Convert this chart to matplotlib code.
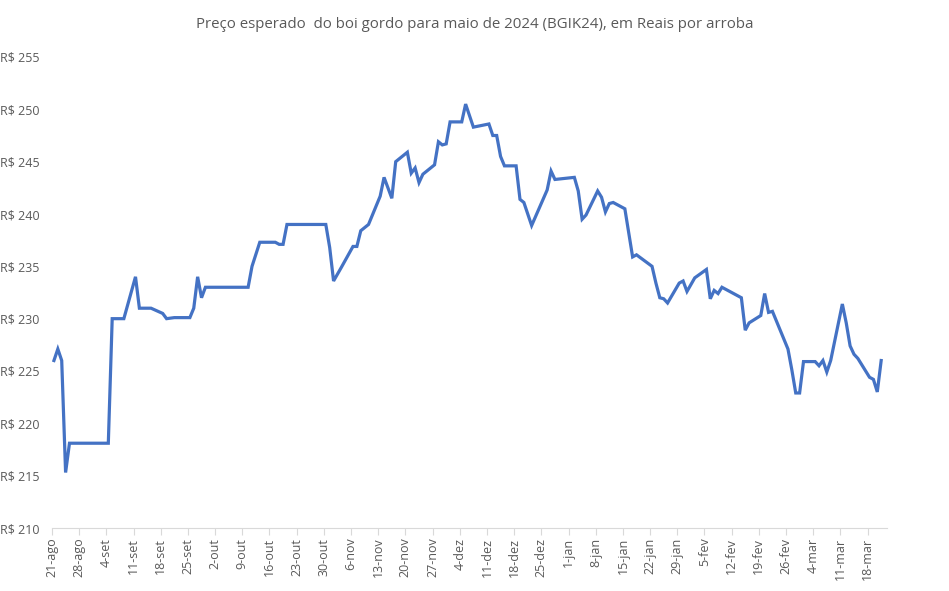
import numpy as np
import pandas as pd
import matplotlib
matplotlib.use("Agg")
from matplotlib import pyplot as plt
from matplotlib.ticker import FuncFormatter

# Datas (pregoes) e precos
datas = [
    "2023-08-21", "2023-08-22", "2023-08-23", "2023-08-24", "2023-08-25",
    "2023-09-04", "2023-09-05", "2023-09-08", "2023-09-11", "2023-09-12",
    "2023-09-15", "2023-09-18", "2023-09-19", "2023-09-21", "2023-09-25",
    "2023-09-26", "2023-09-27", "2023-09-28", "2023-09-29", "2023-10-10",
    "2023-10-11", "2023-10-13", "2023-10-17", "2023-10-18", "2023-10-19",
    "2023-10-20", "2023-10-30", "2023-10-31", "2023-11-01", "2023-11-03",
    "2023-11-06", "2023-11-07", "2023-11-08", "2023-11-10", "2023-11-13",
    "2023-11-14", "2023-11-16", "2023-11-17", "2023-11-20", "2023-11-21",
    "2023-11-22", "2023-11-23", "2023-11-24", "2023-11-27", "2023-11-28",
    "2023-11-29", "2023-11-30", "2023-12-01", "2023-12-04", "2023-12-05",
    "2023-12-07", "2023-12-11", "2023-12-12", "2023-12-13", "2023-12-14",
    "2023-12-15", "2023-12-18", "2023-12-19", "2023-12-20", "2023-12-22",
    "2023-12-26", "2023-12-27", "2023-12-28", "2024-01-02", "2024-01-03",
    "2024-01-04", "2024-01-05", "2024-01-08", "2024-01-09", "2024-01-10",
    "2024-01-11", "2024-01-12", "2024-01-15", "2024-01-17", "2024-01-18",
    "2024-01-22", "2024-01-23", "2024-01-24", "2024-01-25", "2024-01-26",
    "2024-01-29", "2024-01-30", "2024-01-31", "2024-02-02", "2024-02-05",
    "2024-02-06", "2024-02-07", "2024-02-08", "2024-02-09", "2024-02-14",
    "2024-02-15", "2024-02-16", "2024-02-19", "2024-02-20", "2024-02-21",
    "2024-02-22", "2024-02-26", "2024-02-27", "2024-02-28", "2024-02-29",
    "2024-03-01", "2024-03-04", "2024-03-05", "2024-03-06", "2024-03-07",
    "2024-03-08", "2024-03-11", "2024-03-12", "2024-03-13", "2024-03-14",
    "2024-03-15", "2024-03-18", "2024-03-19", "2024-03-20", "2024-03-21",
]
precos = [
    226.0, 227.1, 226.0, 215.3, 218.1,
    218.1, 230.0, 230.0, 234.0, 231.0,
    231.0, 230.5, 230.0, 230.1, 230.1,
    231.0, 234.0, 232.0, 233.0, 233.0,
    235.0, 237.3, 237.3, 237.1, 237.1,
    239.0, 239.0, 236.8, 233.6, 234.9,
    236.9, 236.9, 238.4, 239.0, 241.7,
    243.5, 241.5, 245.0, 245.9, 243.9,
    244.4, 243.0, 243.8, 244.7, 246.9,
    246.6, 246.7, 248.8, 248.8, 250.5,
    248.3, 248.6, 247.5, 247.5, 245.5,
    244.6, 244.6, 241.4, 241.1, 238.9,
    242.3, 244.1, 243.3, 243.5, 242.2,
    239.5, 239.9, 242.2, 241.6, 240.2,
    241.0, 241.1, 240.5, 235.9, 236.1,
    235.0, 233.4, 232.0, 231.9, 231.5,
    233.4, 233.6, 232.6, 233.9, 234.7,
    231.9, 232.7, 232.4, 233.0, 232.0,
    228.9, 229.6, 230.3, 232.4, 230.6,
    230.7, 227.1, 225.1, 222.9, 222.9,
    225.9, 225.9, 225.5, 226.0, 224.9,
    226.0, 231.4, 229.6, 227.4, 226.6,
    226.2, 224.4, 224.2, 223.0, 226.0,
]
meses = ["jan", "fev", "mar", "abr", "mai", "jun",
         "jul", "ago", "set", "out", "nov", "dez"]
titulo = "Preço esperado  do boi gordo para maio de 2024 (BGIK24), em Reais por arroba"

x = pd.to_datetime(datas) + pd.Timedelta(hours=12)
ticks = pd.date_range("2023-08-21", "2024-03-18", freq="7D")

cinza = "#595959"
plt.rcParams["font.family"] = ["Open Sans", "DejaVu Sans"]

fig = plt.figure(figsize=(9.49, 5.91), dpi=100)
ax = fig.add_axes([52 / 949, 63 / 591, 835 / 949, 471 / 591])

ax.plot(x, precos, color="#4472C4", linewidth=2.3, solid_joinstyle="miter")

ax.set_ylim(210, 255)
ax.set_yticks(np.arange(210, 256, 5))
ax.yaxis.set_major_formatter(FuncFormatter(lambda v, p: "R\\$ %d" % v))
ax.set_xlim(pd.Timestamp("2023-08-21"), pd.Timestamp("2024-03-23"))
ax.set_xticks(ticks)
ax.set_xticklabels(["%d-%s" % (d.day, meses[d.month - 1]) for d in ticks],
                   rotation=90)

for s in ["top", "right", "left"]:
    ax.spines[s].set_visible(False)
ax.spines["bottom"].set_color("#D9D9D9")
ax.tick_params(axis="y", length=0, pad=9, labelsize=9, labelcolor=cinza)
ax.tick_params(axis="x", length=5, color="#D9D9D9", pad=2, labelsize=9,
               labelcolor=cinza)

fig.text(0.5, 1 - 24 / 591, titulo, ha="center", va="center",
         fontsize=10.8, color=cinza)

fig.savefig("out.png", dpi=100, facecolor="white")
